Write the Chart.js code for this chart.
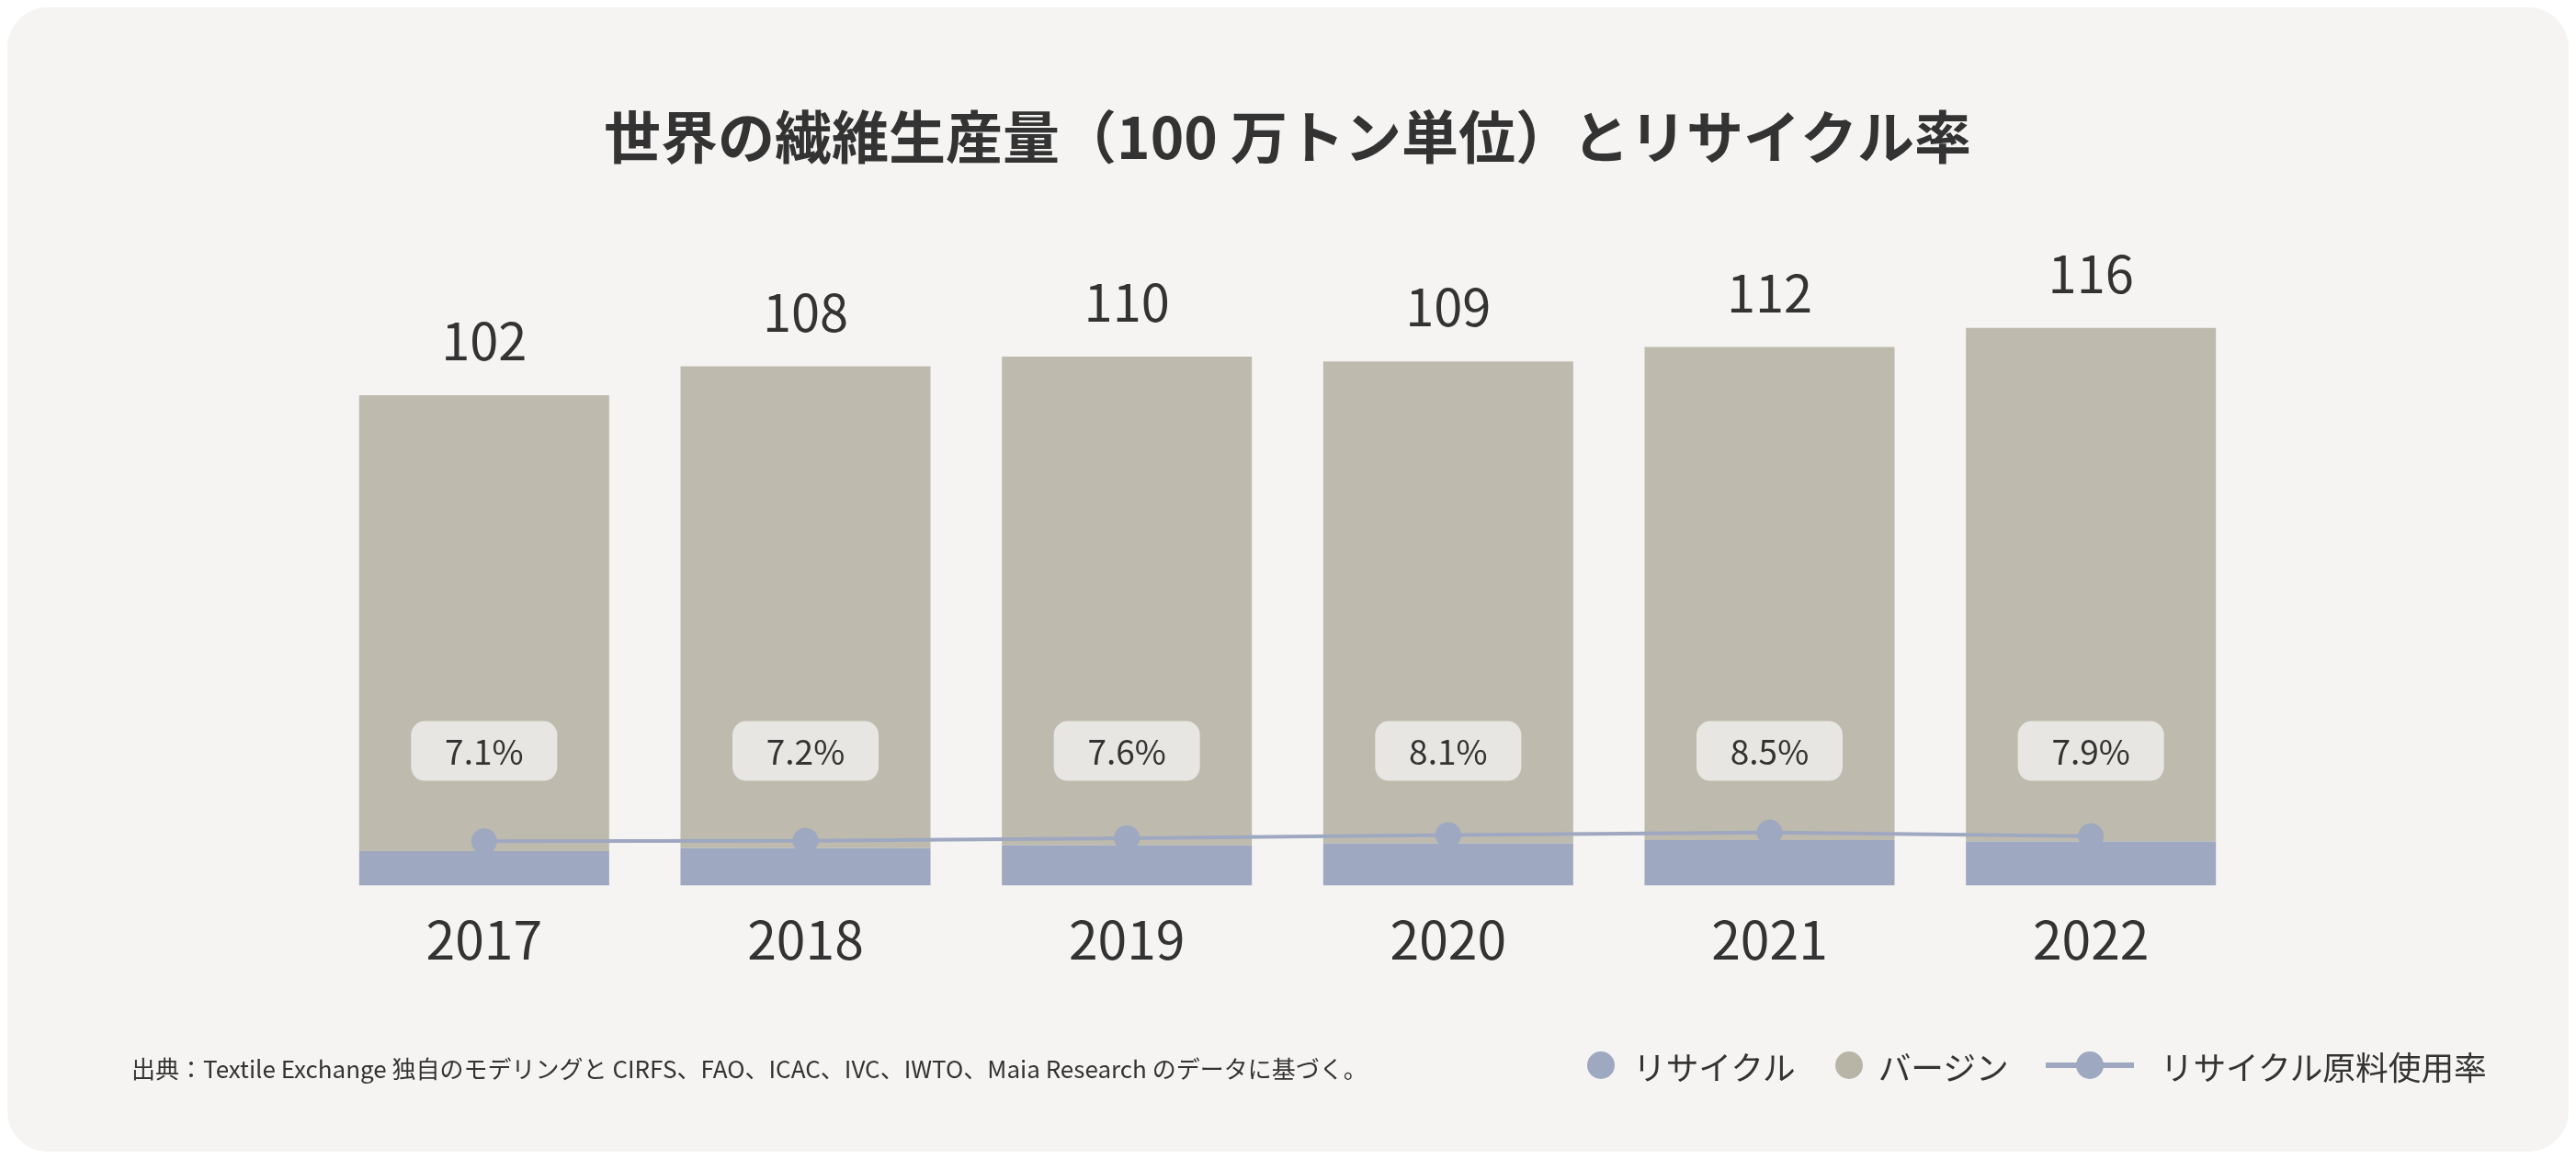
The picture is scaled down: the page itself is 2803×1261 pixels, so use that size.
<!DOCTYPE html>
<html lang="ja">
<head>
<meta charset="utf-8">
<title>世界の繊維生産量とリサイクル率</title>
<script src="https://cdn.jsdelivr.net/npm/chart.js@4.4.1/dist/chart.umd.min.js"></script>
<style>
  html, body { margin: 0; padding: 0; background: #ffffff; }
  body { width: 2803px; height: 1261px; position: relative; overflow: hidden;
         font-family: 'Noto Sans CJK JP', 'Noto Sans', sans-serif; color: #333; }
  .card { position: absolute; left: 8px; top: 8px; width: 2787px; height: 1245px;
          background: #f5f4f2; border-radius: 44px; }
  .wrap { position: absolute; left: 0; top: 0; width: 2803px; height: 1261px; }
  .source { position: absolute; left: 143px; top: 1144px; font-size: 26px; line-height: 36px; color: #333; }
  .legend { position: absolute; left: 1727px; top: 1136px; height: 46px; display: flex; align-items: center;
            font-size: 35.7px; color: #333; }
  .dot { width: 30px; height: 30px; border-radius: 50%; display: inline-block; }
  .lineKey { position: relative; width: 96px; height: 30px; display: inline-block; }
  .lineKey .bar { position: absolute; left: 0; right: 0; top: 12px; height: 6px; background: #9ea8c0; }
  .lineKey .dot { position: absolute; left: 33px; top: 0; background: #9ea8c0; }
</style>
</head>
<body>
<div class="card"></div>
<div class="wrap"><canvas id="chart"></canvas></div>
<div class="source">出典：Textile Exchange 独自のモデリングと CIRFS、FAO、ICAC、IVC、IWTO、Maia Research のデータに基づく。</div>
<div class="legend">
  <span class="dot" style="background:#9ea8c0"></span><span style="margin-left:20px">リサイクル</span>
  <span class="dot" style="background:#b8b5a6;margin-left:43px"></span><span style="margin-left:17px">バージン</span>
  <span class="lineKey" style="margin-left:40px"><span class="bar"></span><span class="dot"></span></span><span style="margin-left:29px">リサイクル原料使用率</span>
</div>
<script>
const years = ['2017', '2018', '2019', '2020', '2021', '2022'];
const totals = [102, 108, 110, 109, 112, 116];
const recycled = [7.2, 7.8, 8.4, 8.8, 9.5, 9.2];
const virgin = [94.8, 100.2, 101.6, 100.2, 102.5, 106.8];
const recycleRate = [7.1, 7.2, 7.6, 8.1, 8.5, 7.9];

const FONT = "'Noto Sans CJK JP', 'Noto Sans', sans-serif";
const textColor = '#333333';

// labels above bars and the % badges inside them
const barLabels = {
  id: 'barLabels',
  afterDatasetsDraw(chart) {
    const ctx = chart.ctx;
    const top = chart.getDatasetMeta(1);
    const y = chart.scales.y;
    ctx.save();
    top.data.forEach((bar, i) => {
      ctx.fillStyle = textColor;
      ctx.font = '56px ' + FONT;
      ctx.textAlign = 'center';
      ctx.textBaseline = 'alphabetic';
      ctx.fillText(String(totals[i]), bar.x, bar.y - 38);

      const by = y.getPixelForValue(28);
      const w = 159, h = 65;
      ctx.fillStyle = '#e8e6e3';
      ctx.beginPath();
      ctx.roundRect(bar.x - w / 2, by - h / 2, w, h, 15);
      ctx.fill();
      ctx.fillStyle = textColor;
      ctx.font = '37px ' + FONT;
      ctx.textBaseline = 'middle';
      ctx.fillText(recycleRate[i].toFixed(1) + '%', bar.x, by + 1);
    });
    ctx.restore();
  }
};

new Chart(document.getElementById('chart'), {
  data: {
    labels: years,
    datasets: [
      {
        type: 'bar',
        label: 'リサイクル',
        data: recycled,
        backgroundColor: '#9ea8c0',
        stack: 's',
        order: 1,
        barPercentage: 0.778,
        categoryPercentage: 1
      },
      {
        type: 'bar',
        label: 'バージン',
        data: virgin,
        backgroundColor: '#bebaae',
        stack: 's',
        order: 1,
        barPercentage: 0.778,
        categoryPercentage: 1
      },
      {
        type: 'line',
        label: 'リサイクル原料使用率',
        data: recycleRate,
        yAxisID: 'y2',
        borderColor: '#9ea8c0',
        borderWidth: 4,
        pointRadius: 14,
        pointBackgroundColor: '#9ea8c0',
        pointBorderWidth: 0,
        order: 0
      }
    ]
  },
  options: {
    responsive: true,
    maintainAspectRatio: false,
    animation: false,
    layout: { padding: { left: 352, right: 353, top: 0, bottom: 187 } },
    plugins: {
      legend: { display: false },
      tooltip: { enabled: false },
      title: {
        display: true,
        text: '世界の繊維生産量（100 万トン単位）とリサイクル率',
        color: textColor,
        font: { family: FONT, size: 62, weight: 'bold', lineHeight: 1.2 },
        padding: { top: 112, bottom: 97 }
      }
    },
    scales: {
      x: {
        stacked: true,
        grid: { display: false },
        border: { display: false },
        ticks: { color: textColor, font: { family: FONT, size: 57 }, padding: 17 }
      },
      y: { stacked: true, display: false, min: 0, max: 130 },
      y2: { display: false, min: 0, max: 100, position: 'right' }
    }
  },
  plugins: [barLabels]
});
</script>
</body>
</html>
